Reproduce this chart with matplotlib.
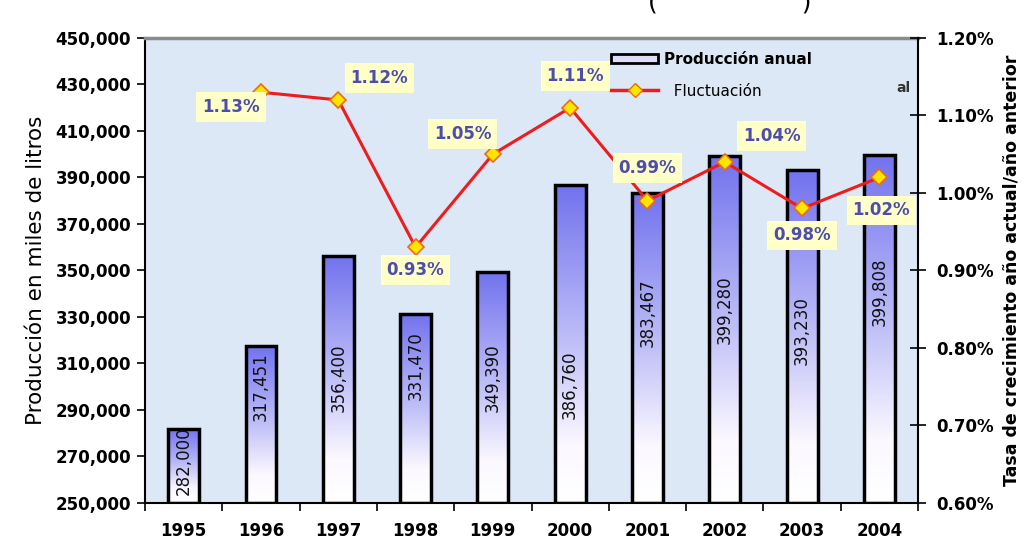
import numpy as np
import matplotlib
matplotlib.use("Agg")
import matplotlib.pyplot as plt
from matplotlib.colors import LinearSegmentedColormap
from matplotlib.patches import Patch
from matplotlib.lines import Line2D
from matplotlib.ticker import FuncFormatter, FixedLocator

years = ['1995', '1996', '1997', '1998', '1999', '2000', '2001', '2002', '2003', '2004']
produccion = [282000, 317451, 356400, 331470, 349390, 386760, 383467, 399280, 393230, 399808]
# growth rate current year / previous year, in percent (no value for 1995)
fluct_years = years[1:]
fluctuacion = [1.13, 1.12, 0.93, 1.05, 1.11, 0.99, 1.04, 0.98, 1.02]

# where each rotated value label sits inside its bar (data units)
bar_label_y = [268000, 300000, 304000, 309000, 304000, 301000, 332000, 333000, 324000, 341000]
# offsets (pixels) of the percent boxes from their markers
pct_offsets = [(-30, -15), (41, 22), (0, -23), (-30, 20), (5, 32), (0, 33), (47, 26), (0, -27), (2, -33)]

plt.rcParams['font.family'] = 'DejaVu Sans'

fig = plt.figure(figsize=(10.25, 5.57), dpi=100)
ax = fig.add_axes([0.1415, 0.0970, 0.7541, 0.8348])
ax.set_facecolor('#dde8f6')

x = np.arange(len(years))
width = 0.4
ymin, ymax = 250000, 450000

grad = LinearSegmentedColormap.from_list(
    'bar', [(0.0, '#ffffff'), (0.18, '#fbf8ff'), (0.5, '#c0c0f8'), (1.0, '#7272ee')])
g = np.linspace(0, 1, 256).reshape(-1, 1)

bars = ax.bar(x, [v - ymin for v in produccion], width, bottom=ymin,
              facecolor='none', edgecolor='black', linewidth=2.5, zorder=3)
for xi, v in zip(x, produccion):
    ax.imshow(g, cmap=grad, origin='lower', aspect='auto', zorder=2,
              extent=[xi - width / 2, xi + width / 2, ymin, v])

for xi, v, ly in zip(x, produccion, bar_label_y):
    ax.text(xi, ly, f'{v:,}', rotation=90, ha='center', va='center',
            fontsize=12, color='#111111', zorder=4)

ax.set_xlim(-0.5, len(years) - 0.5)
ax.set_ylim(ymin, ymax)
ax.set_yticks(np.arange(ymin, ymax + 1, 20000))
ax.yaxis.set_major_formatter(FuncFormatter(lambda v, p: f'{int(v):,}'))
ax.set_xticks(x)
ax.set_xticklabels(years, fontsize=12, fontweight='bold')
ax.xaxis.set_minor_locator(FixedLocator(np.arange(-0.5, len(years), 1.0)))
ax.tick_params(axis='x', which='major', length=0, pad=14)
ax.tick_params(axis='x', which='minor', length=6, width=1.2, direction='out')
ax.tick_params(axis='y', length=6, width=1.2, direction='out', pad=4)
for lab in ax.get_yticklabels():
    lab.set_fontsize(12)
    lab.set_fontweight('bold')
ax.set_ylabel('Producción en miles de litros', fontsize=15.5, labelpad=7)

ax.spines['left'].set_linewidth(1.5)
ax.spines['bottom'].set_linewidth(1.5)
ax.spines['top'].set_color('#8a8a8a')
ax.spines['top'].set_linewidth(2.5)
ax.spines['right'].set_visible(False)

ax2 = ax.twinx()
ax2.set_ylim(0.60, 1.20)
ax2.set_yticks(np.arange(0.60, 1.201, 0.10))
ax2.yaxis.set_major_formatter(FuncFormatter(lambda v, p: f'{v:.2f}%'))
ax2.tick_params(axis='y', length=12, width=1.2, direction='inout', pad=7)
for lab in ax2.get_yticklabels():
    lab.set_fontsize(12)
    lab.set_fontweight('bold')
ax2.set_ylabel('Tasa de crecimiento año actual/año anterior', fontsize=12.5,
               fontweight='bold', labelpad=6)
for s in ['left', 'top', 'bottom']:
    ax2.spines[s].set_visible(False)
ax2.spines['right'].set_linewidth(1.5)

fx = [years.index(y) for y in fluct_years]
ax2.plot(fx, fluctuacion, color='#ee1c1c', linewidth=2.2, marker='D',
         markersize=8.5, markerfacecolor='#ffe600', markeredgecolor='#f06a10',
         markeredgewidth=1.2, zorder=5)
for xi, v, off in zip(fx, fluctuacion, pct_offsets):
    ax2.annotate(f'{v:.2f}%', (xi, v), xytext=off, textcoords='offset pixels',
                 ha='center', va='center', fontsize=12, fontweight='bold',
                 color='#4d4dae', zorder=6,
                 bbox=dict(boxstyle='square,pad=0.35', facecolor='#ffffc8',
                           edgecolor='none'))

handles = [Patch(facecolor='#dcdcf6', edgecolor='black', linewidth=2),
           Line2D([], [], color='#ee1c1c', linewidth=2.5, marker='D',
                  markersize=7, markerfacecolor='#ffe600',
                  markeredgecolor='#f06a10')]
leg = ax2.legend(handles, ['Producción anual', '  Fluctuación'],
                 loc='upper left', bbox_to_anchor=(0.585, 1.0), frameon=False,
                 fontsize=11, handlelength=3.1, handleheight=0.6,
                 labelspacing=1.1, handletextpad=0.4)
leg.get_texts()[0].set_fontweight('bold')

ax2.text(0.981, 0.892, 'al', transform=ax2.transAxes, fontsize=10,
         fontweight='bold', color='#333333', ha='center', va='center')

# title sits mostly above the canvas; only the closing marks show
fig.text(0.712, 1 - 9.4 / 557, '(' + ' ' * 18 + ')', ha='center',
         va='baseline', fontsize=18)

fig.savefig('out.png', dpi=100)
